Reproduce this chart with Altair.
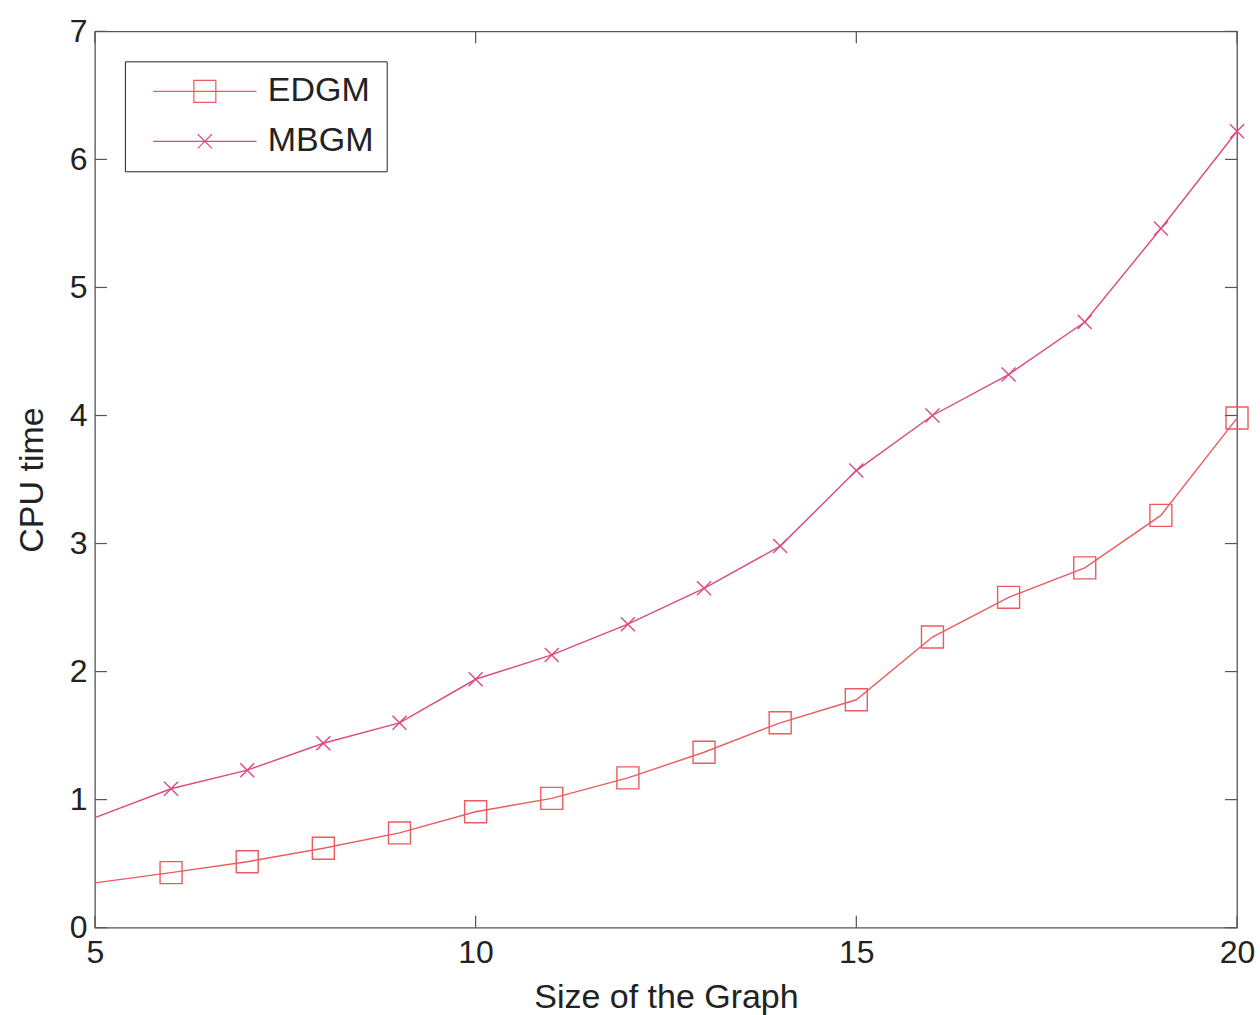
import altair as alt
import pandas as pd

sizes = list(range(5, 21))
edgm = [0.35, 0.43, 0.515, 0.62, 0.74, 0.905, 1.01, 1.17, 1.37, 1.60, 1.78, 2.27, 2.58, 2.81, 3.22, 3.98]
mbgm = [0.86, 1.085, 1.23, 1.44, 1.60, 1.94, 2.13, 2.37, 2.65, 2.98, 3.57, 4.00, 4.32, 4.73, 5.46, 6.22]
series = ["EDGM", "MBGM"]
colors = ["#ec5b60", "#dc4a80"]
x_ticks = [5, 10, 15, 20]
y_ticks = [0, 1, 2, 3, 4, 5, 6, 7]

W, H = 1143, 897
FONT = "Liberation Sans"
TL = 12

rows = []
for s, vals in zip(series, [edgm, mbgm]):
    for x, v in zip(sizes, vals):
        rows.append({"x": x, "y": v, "series": s})
df = pd.DataFrame(rows)

xscale = alt.Scale(domain=[5, 20], nice=False, zero=False)
yscale = alt.Scale(domain=[0, 7], nice=False, zero=False)
xaxis = alt.Axis(values=x_ticks, title="Size of the Graph", labelFlush=False, grid=False,
                 ticks=False, domain=False, labelFontSize=32, labelFont=FONT, labelColor="#222",
                 labelPadding=10, titleFontSize=34, titleFont=FONT, titleColor="#222",
                 titleFontWeight="normal", titlePadding=12, format="d")
yaxis = alt.Axis(values=y_ticks, title="CPU time", grid=False, ticks=False, domain=False,
                 labelFontSize=32, labelFont=FONT, labelColor="#222", labelPadding=8,
                 titleFontSize=34, titleFont=FONT, titleColor="#222", titleFontWeight="normal",
                 titlePadding=20, format="d")

color = alt.Color("series:N", scale=alt.Scale(domain=series, range=colors), legend=None)

lines = alt.Chart(df).mark_line(strokeWidth=1.4).encode(
    x=alt.X("x:Q", scale=xscale, axis=xaxis),
    y=alt.Y("y:Q", scale=yscale, axis=yaxis),
    color=color,
    detail="series:N",
)

points = alt.Chart(df).transform_filter("datum.x > 5").mark_point(filled=False, strokeWidth=1.4, opacity=1).encode(
    x=alt.X("x:Q", scale=xscale, axis=xaxis),
    y=alt.Y("y:Q", scale=yscale, axis=yaxis),
    color=color,
    shape=alt.Shape("series:N", scale=alt.Scale(domain=series, range=["square", "M-1,-1L1,1M-1,1L1,-1"]), legend=None),
    size=alt.Size("series:N", scale=alt.Scale(domain=series, range=[484, 196]), legend=None),
)

xt = pd.DataFrame({"v": x_ticks})
yt = pd.DataFrame({"v": y_ticks})
tick_color = "#555"
xb = alt.Chart(xt).mark_rule(color=tick_color, strokeWidth=1.2).encode(
    x=alt.X("v:Q", scale=xscale, axis=xaxis), y=alt.value(H), y2=alt.value(H - TL))
xtop = alt.Chart(xt).mark_rule(color=tick_color, strokeWidth=1.2).encode(
    x=alt.X("v:Q", scale=xscale, axis=xaxis), y=alt.value(0), y2=alt.value(TL))
yl = alt.Chart(yt).mark_rule(color=tick_color, strokeWidth=1.2).encode(
    y=alt.Y("v:Q", scale=yscale, axis=yaxis), x=alt.value(0), x2=alt.value(TL))
yr = alt.Chart(yt).mark_rule(color=tick_color, strokeWidth=1.2).encode(
    y=alt.Y("v:Q", scale=yscale, axis=yaxis), x=alt.value(W), x2=alt.value(W - TL))

legend_paths = ["M-4.7,0H4.7M-1,-1H1V1H-1Z", "M-4.7,0H4.7M-0.64,-0.64L0.64,0.64M-0.64,0.64L0.64,-0.64"]
legend_layer = alt.Chart(df).transform_filter("datum.x < 0").mark_point(filled=False, size=484, strokeWidth=1.2, opacity=1).encode(
    color=alt.Color("series:N", scale=alt.Scale(domain=series, range=colors),
                    legend=alt.Legend(orient="none", legendX=30, legendY=30, title=None,
                                      strokeColor="#222", fillColor="white", padding=13,
                                      labelFont=FONT, labelFontSize=34, labelColor="#222",
                                      symbolSize=484, symbolStrokeWidth=1.2, symbolOffset=50,
                                      labelOffset=46, rowPadding=16, symbolType="square")),
    shape=alt.Shape("series:N", scale=alt.Scale(domain=series, range=legend_paths), legend=None),
)

chart = alt.layer(lines, points, xb, xtop, yl, yr, legend_layer).resolve_scale(
    color="independent", shape="independent", size="independent"
).properties(
    width=W, height=H, padding={"left": 15, "top": 15, "right": 5, "bottom": 5}, background="white"
).configure_view(stroke="#555", strokeWidth=1.3)

chart.save("out.html", embed_options={"renderer": "svg", "actions": False})
